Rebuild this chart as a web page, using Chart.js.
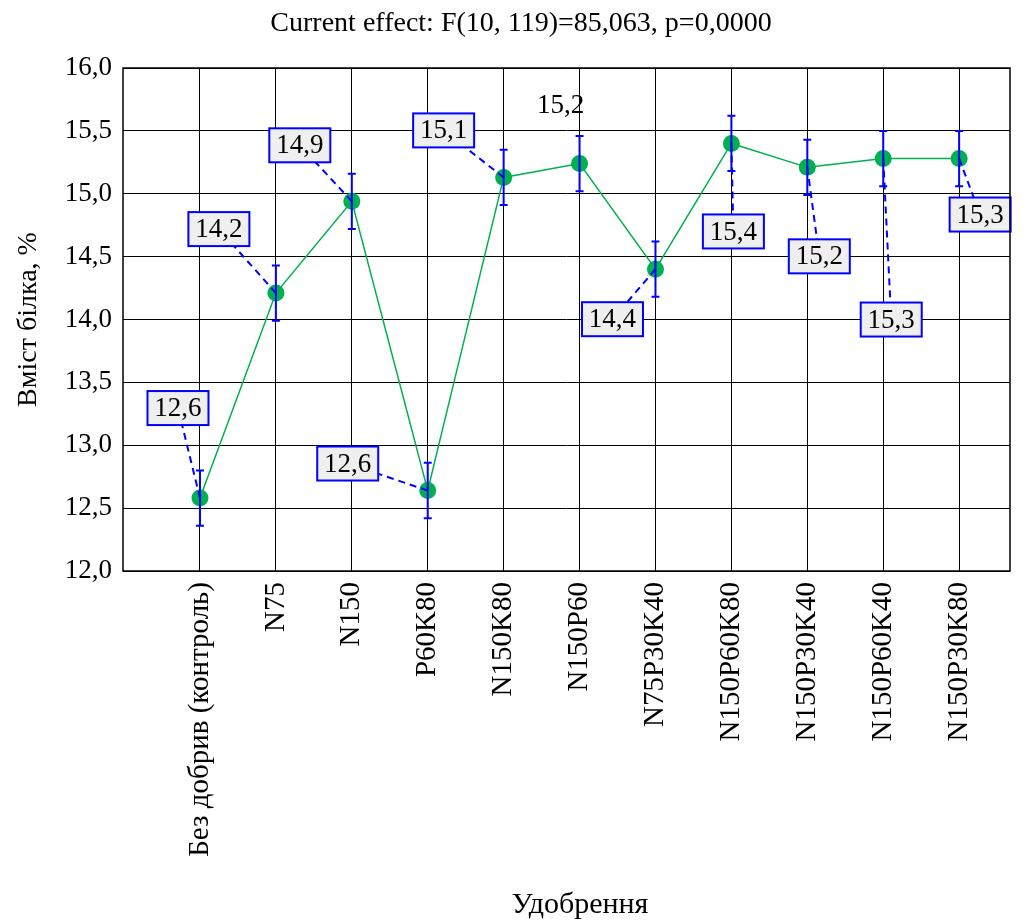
<!DOCTYPE html>
<html>
<head>
<meta charset="utf-8">
<script src="https://cdn.jsdelivr.net/npm/chart.js@4"></script>
<style>
  html, body { margin: 0; padding: 0; background: #fff; }
  #wrap { width: 1029px; height: 922px; }
</style>
</head>
<body>
<div id="wrap"><canvas id="chart" width="1029" height="922"></canvas></div>
<script>
(function() {
    'use strict';

    // --- data ---
    const categories = ['Без добрив (контроль)', 'N75', 'N150', 'P60K80', 'N150K80', 'N150P60',
        'N75P30K40', 'N150P60K80', 'N150P30K40', 'N150P60K40', 'N150P30K80'];
    const means = [12.58, 14.21, 14.94, 12.64, 15.13, 15.24, 14.40, 15.40, 15.21, 15.28, 15.28];
    const errors = [0.22, 0.22, 0.22, 0.22, 0.22, 0.22, 0.22, 0.22, 0.22, 0.22, 0.22];
    const yTicks = [12.0, 12.5, 13.0, 13.5, 14.0, 14.5, 15.0, 15.5, 16.0];
    const titleText = 'Current effect: F(10, 119)=85,063, p=0,0000';
    const xTitle = 'Удобрення';
    const yTitle = 'Вміст білка, %';

    // label placement (pixel offset of the label centre from its point), boxed or plain
    const labelOffsets = [[-22, -90], [-57, -64], [-52, -56], [-80, -27], [-60, -47], [-19, -59],
        [-43, 50], [2, 88], [12, 89], [8, 161], [21, 56]];
    const labelBoxed = [true, true, true, true, true, false, true, true, true, true, true];

    const FONT = "'Liberation Serif', 'Times New Roman', serif";
    const fmt = v => v.toFixed(1).replace('.', ',');

    const extras = {
        id: 'extras',
        afterDatasetsDraw(chart) {
            const ctx = chart.ctx;
            const xs = chart.scales.x, ys = chart.scales.y;
            const area = chart.chartArea;

            // error bars
            ctx.save();
            ctx.strokeStyle = '#0000ff';
            ctx.lineWidth = 2;
            means.forEach((m, i) => {
                const x = xs.getPixelForValue(i);
                const y1 = ys.getPixelForValue(m + errors[i]);
                const y2 = ys.getPixelForValue(m - errors[i]);
                ctx.beginPath();
                ctx.moveTo(x, y1); ctx.lineTo(x, y2);
                ctx.moveTo(x - 4, y1); ctx.lineTo(x + 4, y1);
                ctx.moveTo(x - 4, y2); ctx.lineTo(x + 4, y2);
                ctx.stroke();
            });
            ctx.restore();

            // leader lines + value labels
            ctx.save();
            ctx.font = '27px ' + FONT;
            ctx.textAlign = 'center';
            ctx.textBaseline = 'middle';
            means.forEach((m, i) => {
                const px = xs.getPixelForValue(i);
                const py = ys.getPixelForValue(m);
                const cx = px + labelOffsets[i][0];
                const cy = py + labelOffsets[i][1];
                const txt = fmt(m);
                if (labelBoxed[i]) {
                    ctx.strokeStyle = '#0000ff';
                    ctx.lineWidth = 2;
                    ctx.setLineDash([7, 5]);
                    ctx.beginPath();
                    ctx.moveTo(px, py); ctx.lineTo(cx, cy);
                    ctx.stroke();
                    ctx.setLineDash([]);
                    const w = 61, h = 34;
                    ctx.fillStyle = '#efefef';
                    ctx.fillRect(cx - w / 2, cy - h / 2, w, h);
                    ctx.strokeRect(cx - w / 2, cy - h / 2, w, h);
                }
                ctx.fillStyle = '#000';
                ctx.fillText(txt, cx, cy + 1);
            });
            ctx.restore();

            // plot frame
            ctx.save();
            ctx.strokeStyle = '#000';
            ctx.lineWidth = 1.5;
            ctx.strokeRect(area.left, area.top, area.right - area.left, area.bottom - area.top);
            ctx.restore();
        },
        afterDraw(chart) {
            const ctx = chart.ctx;
            ctx.save();
            ctx.fillStyle = '#000';
            ctx.textAlign = 'center';
            ctx.textBaseline = 'middle';
            ctx.font = '28px ' + FONT;
            ctx.fillText(titleText, 521, 24);
            ctx.font = '30px ' + FONT;
            ctx.fillText(xTitle, 580, 905);
            ctx.restore();
        }
    };

    const canvas = document.getElementById('chart');
    new Chart(canvas.getContext('2d'), {
        type: 'line',
        data: {
            datasets: [{
                data: means.map((m, i) => ({ x: i, y: m })),
                borderColor: '#00b050',
                backgroundColor: '#00b050',
                borderWidth: 1.5,
                pointRadius: 8.5,
                pointBorderWidth: 0,
                pointBackgroundColor: '#00b050',
                tension: 0
            }]
        },
        options: {
            responsive: false,
            devicePixelRatio: 1,
            animation: false,
            layout: { padding: { top: 68, right: 19, left: 0, bottom: 0 } },
            plugins: {
                legend: { display: false },
                tooltip: { enabled: false },
                title: { display: false }
            },
            scales: {
                x: {
                    type: 'linear',
                    min: -1.014,
                    max: 10.67,
                    afterBuildTicks: scale => { scale.ticks = categories.map((c, i) => ({ value: i })); },
                    afterFit: scale => { scale.height = 351; },
                    grid: { color: '#000', lineWidth: 1, drawTicks: false },
                    border: { display: false },
                    ticks: {
                        autoSkip: false,
                        maxRotation: 90,
                        minRotation: 90,
                        padding: 11,
                        color: '#000',
                        font: { family: FONT, size: 29 },
                        callback: v => categories[v]
                    }
                },
                y: {
                    min: yTicks[0],
                    max: yTicks[yTicks.length - 1],
                    afterBuildTicks: scale => { scale.ticks = yTicks.map(v => ({ value: v })); },
                    afterFit: scale => { scale.width = 123; },
                    grid: { color: '#000', lineWidth: 1, drawTicks: false },
                    border: { display: false },
                    ticks: {
                        padding: 11,
                        color: '#000',
                        font: { family: FONT, size: 27 },
                        callback: v => fmt(v)
                    },
                    title: {
                        display: true,
                        text: yTitle,
                        color: '#000',
                        font: { family: FONT, size: 28 },
                        padding: { top: 12, bottom: 0 }
                    }
                }
            }
        },
        plugins: [extras]
    });
})();
</script>
</body>
</html>
